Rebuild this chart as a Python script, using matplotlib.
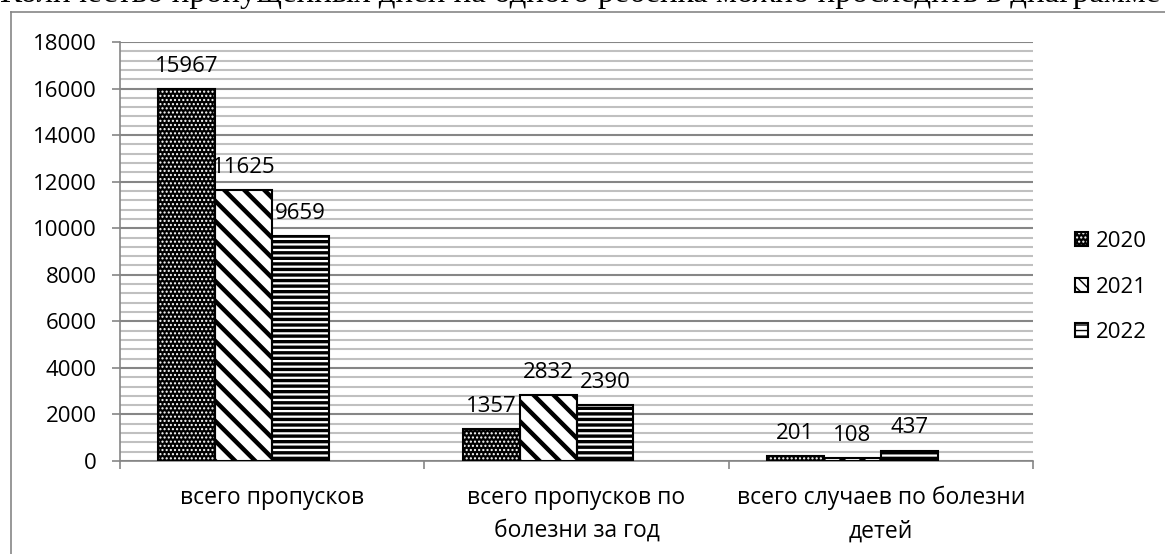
import numpy as np
import matplotlib
matplotlib.use('Agg')
from matplotlib import pyplot as plt
from matplotlib.patches import Patch
from matplotlib.lines import Line2D
from matplotlib.collections import LineCollection
from matplotlib.transforms import IdentityTransform

plt.rcParams['font.family'] = ['Open Sans', 'DejaVu Sans']

# data
categories = ['всего пропусков',
              'всего пропусков по\nболезни за год',
              'всего случаев по болезни\nдетей']
years = ['2020', '2021', '2022']
v2020 = [15967, 1357, 201]
v2021 = [11625, 2832, 108]
v2022 = [9659, 2390, 437]
title_text = 'Количество пропущенных дней на одного ребенка можно проследить в диаграмме'

W, H = 1165, 554
fig = plt.figure(figsize=(W / 100, H / 100), dpi=100)

# page title (cut off at the top) and the chart frame
fig.text(0, 1 - 2 / H, title_text, fontsize=23.8, family='Liberation Serif',
         ha='left', va='baseline', color='black')
fig.add_artist(Line2D([11 / W, 1], [1 - 12 / H, 1 - 12 / H], color='#868686', lw=1.2))
fig.add_artist(Line2D([11 / W, 11 / W], [0, 1 - 12 / H], color='#868686', lw=1.2))

ax = fig.add_axes([120 / W, 1 - 461 / H, (1033 - 120) / W, (461 - 42) / H])
ax.set_xlim(-0.5, 2.5)
ax.set_ylim(0, 18000)

x = np.arange(len(categories))
w = 0.187
styles = [
    dict(face='black', hatch='....', hcol='white', hlw=1.0),
    dict(face='white', hatch=None, hcol='black', hlw=0),
    dict(face='white', hatch='---', hcol='black', hlw=2.4),
]
series = [v2020, v2021, v2022]


def diagonal_stripes(bar, step=20, lw=3.2):
    # wide "\" stripes, drawn in pixel space and clipped to the bar
    (x0, y0), (x1, y1) = ax.transData.transform([[bar.get_x(), 0],
                                                 [bar.get_x() + bar.get_width(), bar.get_height()]])
    segs = []
    c = x0 + y0 - step
    while c < x1 + y1 + step:
        segs.append([(c - y1 - 5, y1 + 5), (c - y0 + 5, y0 - 5)])
        c += step
    lc = LineCollection(segs, colors='black', linewidths=lw, transform=IdentityTransform(),
                        zorder=3.5)
    lc.set_clip_path(bar)
    fig.add_artist(lc)


for i, (vals, st) in enumerate(zip(series, styles)):
    lefts = x + (i - 2) * w
    bars = ax.bar(lefts, vals, width=w, align='edge', color=st['face'],
                  edgecolor=st['hcol'], hatch=st['hatch'], linewidth=0, zorder=3)
    for b in bars:
        if st['hatch'] and hasattr(b, 'set_hatch_linewidth'):
            b.set_hatch_linewidth(st['hlw'])
        if st['hatch'] is None:
            diagonal_stripes(b)
    ax.bar(lefts, vals, width=w, align='edge', fill=False, edgecolor='black',
           linewidth=1.5, zorder=4)
    for xl, v in zip(lefts, vals):
        ax.annotate(str(v), (xl + w / 2, v), xytext=(0, 9), textcoords='offset points',
                    ha='center', va='bottom', fontsize=16, zorder=5)

ax.set_yticks(np.arange(0, 18001, 2000))
ax.set_yticks(np.arange(0, 18001, 400), minor=True)
ax.grid(True, which='major', axis='y', color='#868686', lw=1.5, zorder=0)
ax.grid(True, which='minor', axis='y', color='#c0c0c0', lw=1.5, zorder=0)

ax.set_xticks([-0.5, 0.5, 1.5, 2.5])
ax.set_xticklabels([])
ax.set_xticks(x, minor=True)
ax.set_xticklabels(categories, minor=True, fontsize=16.5, linespacing=1.5)
ax.tick_params(axis='x', which='minor', length=0, pad=18)
ax.tick_params(axis='x', which='major', length=6, color='#868686', width=1.2)
ax.tick_params(axis='y', which='major', length=6, color='#868686', width=1.2,
               labelsize=16, pad=11)
ax.tick_params(axis='y', which='minor', length=0)

for s in ['top', 'right']:
    ax.spines[s].set_visible(False)
for s in ['left', 'bottom']:
    ax.spines[s].set_color('#868686')
    ax.spines[s].set_linewidth(1.2)

# legend keys: hatched square with a black outline
leg_hatch = ['....', '\\\\\\', '---']
handles = []
for st, hh in zip(styles, leg_hatch):
    p1 = Patch(facecolor=st['face'], edgecolor=st['hcol'], hatch=hh, linewidth=0)
    if hasattr(p1, 'set_hatch_linewidth'):
        p1.set_hatch_linewidth(2.0 if st['hcol'] == 'black' else 1.0)
    p2 = Patch(fill=False, edgecolor='black', linewidth=1.5)
    handles.append((p1, p2))
leg = fig.legend(handles, years, loc='center left', bbox_to_anchor=(1064 / W, 1 - 287 / H),
                 frameon=False, fontsize=16, handlelength=0.6, handleheight=0.6,
                 handletextpad=0.35, labelspacing=1.1, borderpad=0)

fig.savefig('out.png', dpi=100)
